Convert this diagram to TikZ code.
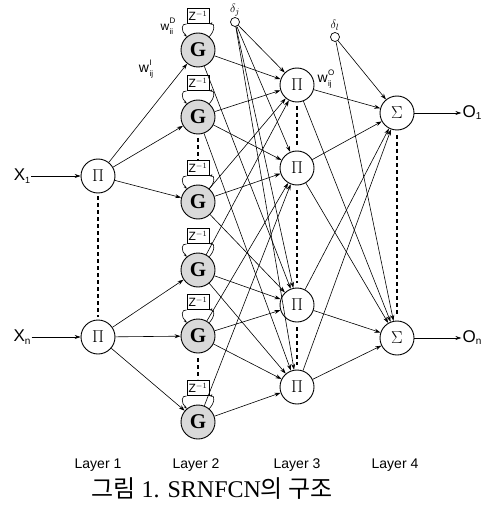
\documentclass[tikz,border=0pt]{standalone}
\usepackage{fontspec}
\setmainfont{Liberation Serif}
\setsansfont{Liberation Sans}
\newfontfamily\kr{Noto Sans CJK KR}
\usetikzlibrary{arrows.meta,calc,positioning}
\newcommand{\wlbl}[2]{w\kern0.5pt\raisebox{-4pt}{\fontsize{8}{8}\selectfont\shortstack[l]{#1\\[2pt]#2}}}
\begin{document}
\begin{tikzpicture}[x=1pt,y=-1pt,
  pinode/.style={circle,draw,line width=0.9pt,minimum size=34pt,inner sep=0pt,font=\fontsize{18}{18}\selectfont},
  gnode/.style={pinode,fill=gray!30,font=\fontsize{21}{21}\selectfont\bfseries},
  zbox/.style={draw,line width=1pt,minimum width=22pt,minimum height=15pt,inner sep=0pt,font=\fontsize{12}{12}\selectfont\sffamily},
  conn/.style={-{Stealth[length=6pt,width=4pt]},line width=0.6pt},
  fb/.style={-{Stealth[length=3pt,width=2.5pt]},line width=0.6pt},
  dline/.style={line width=2pt,dash pattern=on 4pt off 3pt},
  delta/.style={circle,draw,minimum size=9pt,inner sep=0pt,line width=0.7pt},
  lab/.style={font=\fontsize{14}{14}\selectfont\sffamily},
  io/.style={font=\fontsize{17}{17}\selectfont\sffamily,inner sep=1pt},
  wlab/.style={font=\fontsize{14}{14}\selectfont\sffamily,inner sep=0pt},
]
\useasboundingbox (0,0) rectangle (490,513);
% inputs / outputs
\node[io] (x1) at (22,176) {X\raisebox{-3pt}{\fontsize{9}{9}\selectfont 1}};
\node[io] (xn) at (22,337) {X\raisebox{-3pt}{\fontsize{10}{10}\selectfont n}};
\node[io] (o1) at (472,113) {O\raisebox{-2pt}{\fontsize{10}{10}\selectfont 1}};
\node[io] (on) at (472,338) {O\raisebox{-2pt}{\fontsize{10}{10}\selectfont n}};
% layer 1
\node[pinode] (p1) at (98,176) {$\Pi$};
\node[pinode] (p2) at (98,337) {$\Pi$};
% layer 2
\foreach \i/\y in {1/50,2/117,3/202,4/270,5/336,6/422}{
  \node[gnode] (g\i) at (198,\y) {G};
  \node[zbox] (z\i) at (198,\y-34) {Z$^{-1}$};
  \draw[fb] (z\i.south west) .. controls (181,\y-27) and (181,\y-19) .. (g\i.130);
  \draw[fb] (g\i.50) .. controls (215,\y-19) and (215,\y-27) .. (z\i.south east);
}
% layer 3
\node[pinode] (q1) at (297,85) {$\Pi$};
\node[pinode] (q2) at (297,168) {$\Pi$};
\node[pinode] (q3) at (297,305) {$\Pi$};
\node[pinode] (q4) at (297,387) {$\Pi$};
% layer 4
\node[pinode] (s1) at (397,113) {$\Sigma$};
\node[pinode] (s2) at (397,338) {$\Sigma$};
% deltas
\node[delta] (dj) at (235,22) {};
\node[wlab,font=\fontsize{13}{13}\selectfont,above=1pt of dj] (djl) {$\delta_j$};
\node[delta] (dl) at (335,37) {};
\node[wlab,font=\fontsize{13}{13}\selectfont,above=1pt of dl] (dll) {$\delta_l$};
% weight labels
\node[wlab] (wi) at (146,69) {\wlbl{I}{ij}};
\node[wlab,font=\fontsize{12}{12}\selectfont\sffamily] (wd) at (168,26) {\wlbl{D}{ii}};
\node[wlab] (wo) at (326,79) {\wlbl{O}{ij}};
% connections
\draw[conn] (x1) -- (p1);
\draw[conn] (xn) -- (p2);
\draw[conn] (s1) -- (o1);
\draw[conn] (s2) -- (on);
\foreach \g in {1,2,3}{\draw[conn] (p1) -- (g\g);}
\foreach \g in {4,5,6}{\draw[conn] (p2) -- (g\g);}
\foreach \g/\q in {1/1,1/3,2/1,2/2,2/4,3/1,3/2,3/3,4/1,4/3,4/4,5/2,5/3,5/4,6/2,6/4}{
  \draw[conn] (g\g) -- (q\q);}
\foreach \q in {1,2,3,4}{\draw[conn] (dj) -- (q\q);}
\foreach \q in {1,2,3,4}{\foreach \s in {1,2}{\draw[conn] (q\q) -- (s\s);}}
\foreach \s in {1,2}{\draw[conn] (dl) -- (s\s);}
% dashed continuation marks
\draw[dline] ($(p1.south)+(0,3)$) -- ($(p2.north)+(0,-3)$);
\draw[dline] (198,138) -- (198,160);
\draw[dline] (198,358) -- (198,379);
\draw[dline] (297,106) -- (297,145);
\draw[dline] (297,190) -- (297,283);
\draw[dline] (297,327) -- (297,365);
\draw[dline] (397,135) -- (397,316);
% labels
\node[lab] (l1) at (98,465) {Layer 1};
\node[lab] (l2) at (196,465) {Layer 2};
\node[lab] (l3) at (297,465) {Layer 3};
\node[lab] (l4) at (395,465) {Layer 4};
\node[font=\fontsize{24}{24}\selectfont] (cap) at (212,489) {{\kr 그림} 1. SRNFCN{\kr 의 구조}};
\end{tikzpicture}
\end{document}
